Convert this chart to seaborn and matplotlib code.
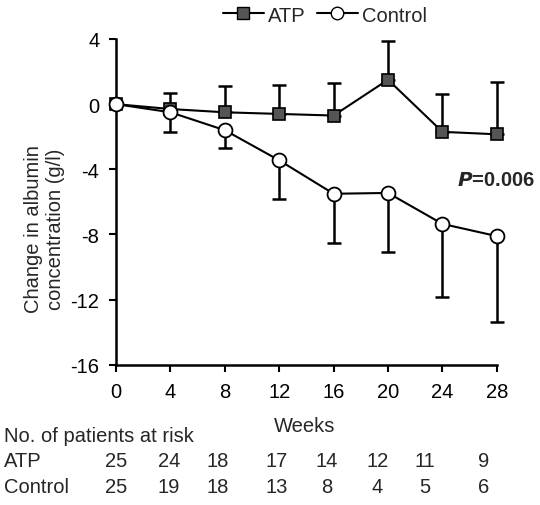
import numpy as np
import pandas as pd
import matplotlib
matplotlib.use("Agg")
import matplotlib.pyplot as plt
import seaborn as sns
from matplotlib.lines import Line2D

weeks = [0, 4, 8, 12, 16, 20, 24, 28]
atp_mean = [0.0, -0.3, -0.5, -0.6, -0.7, 1.5, -1.7, -1.85]
atp_err_up = [0.0, 1.0, 1.6, 1.8, 2.0, 2.4, 2.3, 3.2]
ctrl_mean = [0.0, -0.5, -1.6, -3.45, -5.5, -5.45, -7.35, -8.1]
ctrl_err_down = [0.0, 1.2, 1.1, 2.4, 3.0, 3.6, 4.5, 5.3]
atp_risk = [25, 24, 18, 17, 14, 12, 11, 9]
ctrl_risk = [25, 19, 18, 13, 8, 4, 5, 6]
yticks = [4, 0, -4, -8, -12, -16]
# column positions of the at-risk table, in weeks units
risk_pos = [0, 3.9, 7.45, 11.8, 15.5, 19.2, 22.7, 27.0]

FS = 14.5

sns.set_theme(style="ticks")
plt.rcParams['font.family'] = ['Liberation Sans', 'DejaVu Sans']

fig = plt.figure(figsize=(5.4, 5.06), dpi=100)
ax = fig.add_axes([0.215, 0.277, 0.705, 0.644])

df = pd.DataFrame({
    "Weeks": weeks * 2,
    "value": atp_mean + ctrl_mean,
    "group": ["ATP"] * 8 + ["Control"] * 8,
})

# error bars (one-sided)
ax.errorbar(weeks, atp_mean, yerr=[np.zeros(8), atp_err_up], fmt="none",
            ecolor="black", elinewidth=1.8, capsize=5, capthick=1.8, zorder=2, clip_on=False)
ax.errorbar(weeks, ctrl_mean, yerr=[ctrl_err_down, np.zeros(8)], fmt="none",
            ecolor="black", elinewidth=1.8, capsize=5, capthick=1.8, zorder=2, clip_on=False)

sns.lineplot(data=df[df.group == "ATP"], x="Weeks", y="value", ax=ax, color="black",
             lw=1.5, marker="s", markersize=9, markerfacecolor="#555555",
             markeredgecolor="black", markeredgewidth=1.2, zorder=3, clip_on=False,
             legend=False)
sns.lineplot(data=df[df.group == "Control"], x="Weeks", y="value", ax=ax, color="black",
             lw=1.5, marker="o", markersize=10, markerfacecolor="white",
             markeredgecolor="black", markeredgewidth=1.3, zorder=4, clip_on=False,
             legend=False)

ax.set_xlim(0, 28)
ax.set_ylim(-16, 4)
ax.set_xticks(weeks)
ax.set_yticks(yticks)
ax.set_xticklabels([str(w) for w in weeks], fontsize=FS)
ax.set_yticklabels([str(t) for t in yticks], fontsize=FS)
ax.tick_params(direction="out", length=5, width=1.5, pad=7, colors="black")
for s in ["top", "right"]:
    ax.spines[s].set_visible(False)
for s in ["left", "bottom"]:
    ax.spines[s].set_linewidth(1.8)
    ax.spines[s].set_color("black")
ax.set_xlabel("")
ax.set_ylabel("Change in albumin\nconcentration (g/l)", fontsize=FS)
ax.yaxis.set_label_coords(-0.135, 0.42)

fig.text(457 / 540, 1 - 181 / 506, r"$\boldsymbol{P}$=0.006",
         fontsize=FS, fontweight="bold", ha="left", va="center")

fig.text(305 / 540, 1 - 426 / 506, "Weeks", fontsize=FS, ha="center", va="center")
fig.text(0.008, 1 - 437 / 506, "No. of patients at risk", fontsize=FS, ha="left", va="center")
fig.text(0.008, 1 - 462 / 506, "ATP", fontsize=FS, ha="left", va="center")
fig.text(0.008, 1 - 488 / 506, "Control", fontsize=FS, ha="left", va="center")
trans = matplotlib.transforms.blended_transform_factory(ax.transData, fig.transFigure)
for p, a, c in zip(risk_pos, atp_risk, ctrl_risk):
    ax.text(p, 1 - 462 / 506, str(a), transform=trans, fontsize=FS, ha="center", va="center")
    ax.text(p, 1 - 488 / 506, str(c), transform=trans, fontsize=FS, ha="center", va="center")

handles = [
    Line2D([], [], color="black", lw=1.5, marker="s", markersize=9,
           markerfacecolor="#555555", markeredgecolor="black"),
    Line2D([], [], color="black", lw=1.5, marker="o", markersize=9,
           markerfacecolor="white", markeredgecolor="black"),
]
fig.legend(handles, ["ATP", "Control"], loc="center", bbox_to_anchor=(325 / 540, 1 - 16 / 506),
           ncol=2, frameon=False, fontsize=FS, handlelength=2.0, handletextpad=0.2,
           columnspacing=0.6, borderpad=0)

fig.savefig("out.png", dpi=100)
